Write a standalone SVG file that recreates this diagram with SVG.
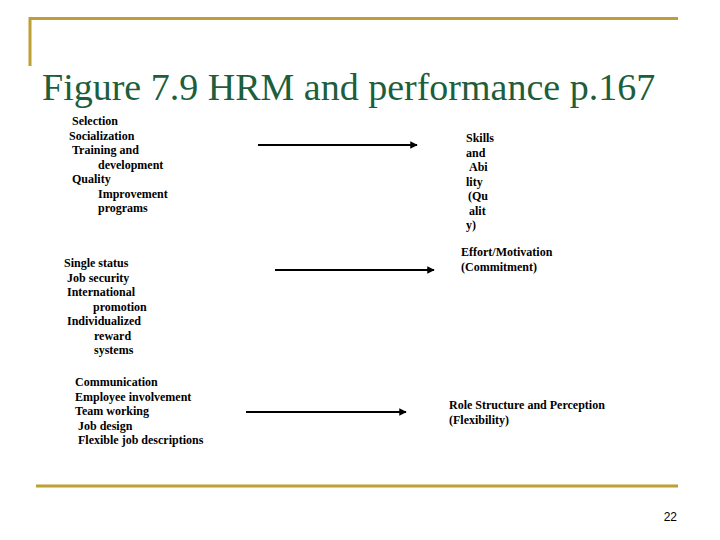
<svg xmlns="http://www.w3.org/2000/svg" width="720" height="540" viewBox="0 0 720 540">
<style>
.gold{stroke:#BDA035;stroke-width:3;fill:none}
.title{font-family:'Liberation Serif','Times New Roman',Times,serif;font-size:38px;fill:#1D5E3C}
.t{font-family:'Liberation Serif','Times New Roman',Times,serif;font-size:12px;font-weight:bold;fill:#000}
.arrow{stroke:#000;stroke-width:2.2;fill:none}
.pg{font-family:'Liberation Sans',Arial,sans-serif;font-size:12px;fill:#000}
</style>
<defs>
<marker id="ah" viewBox="0 0 10 10" refX="9" refY="5" markerWidth="3.4" markerHeight="3.4" orient="auto" markerUnits="strokeWidth">
<path d="M0,0 L10,5 L0,10 z" fill="#000"/>
</marker>
</defs>
<rect width="720" height="540" fill="#fff"/>
<g id="frame">
<path class="gold" d="M30,66 V18.5 H678"/>
<path class="gold" d="M36,486 H678"/>
</g>
<g id="title">
<text class="title" x="42" y="100">Figure 7.9 HRM and performance p.167</text>
</g>
<g id="practices1" class="t">
<text x="72" y="125">Selection</text>
<text x="69" y="140">Socialization</text>
<text x="72" y="154">Training and</text>
<text x="98" y="169">development</text>
<text x="72" y="183">Quality</text>
<text x="98" y="198">Improvement</text>
<text x="98" y="212">programs</text>
</g>
<g id="practices2" class="t">
<text x="64" y="267">Single status</text>
<text x="67" y="282">Job security</text>
<text x="67" y="296">International</text>
<text x="93" y="311">promotion</text>
<text x="67" y="325">Individualized</text>
<text x="94" y="340">reward</text>
<text x="94" y="354">systems</text>
</g>
<g id="practices3" class="t">
<text x="75" y="386">Communication</text>
<text x="75" y="401">Employee involvement</text>
<text x="75" y="415">Team working</text>
<text x="78" y="430">Job design</text>
<text x="78" y="444">Flexible job descriptions</text>
</g>
<g id="outcome1" class="t">
<text x="466" y="142">Skills</text>
<text x="466" y="157">and</text>
<text x="469" y="171">Abi</text>
<text x="466" y="186">lity</text>
<text x="468" y="200">(Qu</text>
<text x="469" y="215">alit</text>
<text x="466" y="229">y)</text>
</g>
<g id="outcome2" class="t">
<text x="461" y="256">Effort/Motivation</text>
<text x="461" y="271">(Commitment)</text>
</g>
<g id="outcome3" class="t">
<text x="449" y="409">Role Structure and Perception</text>
<text x="449" y="424">(Flexibility)</text>
</g>
<g id="connectors">
<line class="arrow" x1="258" y1="145" x2="417" y2="145" marker-end="url(#ah)"/>
<line class="arrow" x1="275" y1="270" x2="434" y2="270" marker-end="url(#ah)"/>
<line class="arrow" x1="246" y1="412" x2="406" y2="412" marker-end="url(#ah)"/>
</g>
<g id="page">
<text class="pg" x="677" y="521" text-anchor="end">22</text>
</g>
</svg>
